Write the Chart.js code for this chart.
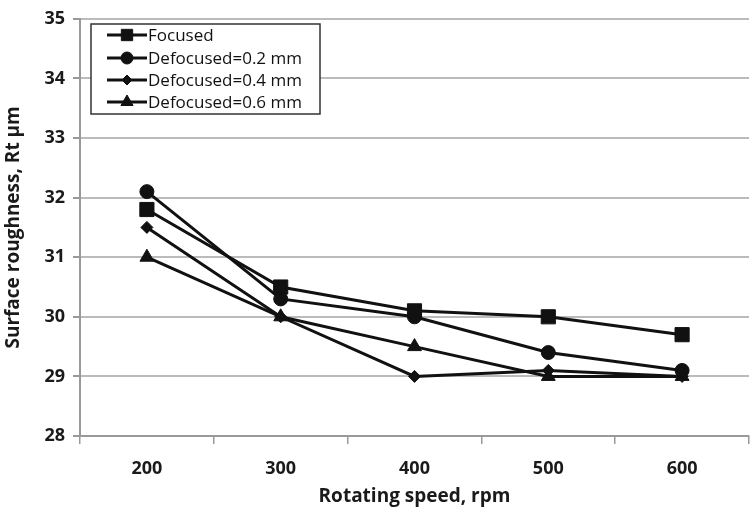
<!DOCTYPE html>
<html>
<head>
<meta charset="utf-8">
<script src="https://cdn.jsdelivr.net/npm/chart.js@4.4.1/dist/chart.umd.min.js"></script>
<style>
  html, body { margin: 0; padding: 0; background: #fff; overflow: hidden; }
  #wrap { width: 760px; height: 509px; position: relative; }
</style>
</head>
<body>
<div id="wrap"><canvas id="c"></canvas></div>
<script>
// Rotating speed categories (rpm)
const speeds = ['200', '300', '400', '500', '600'];
// Surface roughness Rt (µm) per focus condition
const focused    = [31.8, 30.5, 30.1, 30.0, 29.7];
const defocus02  = [32.1, 30.3, 30.0, 29.4, 29.1];
const defocus04  = [31.5, 30.0, 29.0, 29.1, 29.0];
const defocus06  = [31.0, 30.0, 29.5, 29.0, 29.0];
const seriesNames = ['Focused', 'Defocused=0.2 mm', 'Defocused=0.4 mm', 'Defocused=0.6 mm'];

const FONT = "'Open Sans', 'DejaVu Sans', sans-serif";
const INK = '#111';

function series(label, data, style, radius) {
  return {
    label, data,
    borderColor: INK, backgroundColor: INK,
    borderWidth: 3,
    pointStyle: style, pointRadius: radius, pointHoverRadius: radius,
    pointBorderWidth: 1, pointBorderColor: INK, pointBackgroundColor: INK,
    tension: 0, fill: false
  };
}

// Boxed legend drawn inside the plot, with line + marker samples
const boxLegend = {
  id: 'boxLegend',
  afterDatasetsDraw(chart) {
    const ctx = chart.ctx;
    const x0 = 91, y0 = 24, w = 229, h = 90;
    ctx.save();
    ctx.fillStyle = '#fff';
    ctx.fillRect(x0, y0, w, h);
    ctx.strokeStyle = '#333';
    ctx.lineWidth = 1.5;
    ctx.strokeRect(x0, y0, w, h);
    const rows = [35, 58, 80, 102];
    const sizes = [8, 6, 5, 7];
    chart.data.datasets.forEach((ds, i) => {
      const y = rows[i];
      ctx.strokeStyle = INK;
      ctx.lineWidth = 3;
      ctx.beginPath();
      ctx.moveTo(107, y);
      ctx.lineTo(147, y);
      ctx.stroke();
      ctx.fillStyle = INK;
      ctx.strokeStyle = INK;
      ctx.lineWidth = 1;
      Chart.helpers.drawPoint(ctx, { pointStyle: ds.pointStyle, radius: sizes[i], borderWidth: 1 }, 127, y);
      ctx.fillStyle = '#111';
      ctx.font = "17px " + FONT;
      ctx.textBaseline = 'middle';
      ctx.textAlign = 'left';
      ctx.fillText(ds.label, 148, y + 1);
    });
    ctx.restore();
  }
};

new Chart(document.getElementById('c'), {
  type: 'line',
  data: {
    labels: speeds,
    datasets: [
      series(seriesNames[0], focused, 'rect', 10),
      series(seriesNames[1], defocus02, 'circle', 7),
      series(seriesNames[2], defocus04, 'rectRot', 6),
      series(seriesNames[3], defocus06, 'triangle', 8)
    ]
  },
  options: {
    responsive: true,
    maintainAspectRatio: false,
    animation: false,
    layout: { padding: { top: 15, right: 0, left: 0, bottom: 0 } },
    plugins: { legend: { display: false }, tooltip: { enabled: false } },
    scales: {
      x: {
        offset: true,
        grid: { offset: true, drawOnChartArea: false, color: '#999', lineWidth: 1.5, tickLength: 8 },
        border: { color: '#999', width: 2 },
        ticks: { color: '#1a1a1a', font: { family: FONT, size: 18, weight: 'bold' }, padding: 14 },
        title: { display: true, text: 'Rotating speed, rpm', color: '#1a1a1a', font: { family: FONT, size: 19, weight: 'bold' }, padding: { top: 0, bottom: 1 } },
        afterFit(s) { s.height = 73; }
      },
      y: {
        min: 28, max: 35,
        ticks: { stepSize: 1, color: '#1a1a1a', font: { family: FONT, size: 18, weight: 'bold' }, padding: 8 },
        grid: { color: '#bbb', lineWidth: 2, tickLength: 7, tickColor: '#999' },
        border: { color: '#999', width: 2 },
        title: { display: true, text: 'Surface roughness, Rt µm', color: '#1a1a1a', font: { family: FONT, size: 19, weight: 'bold' }, padding: { top: 2, bottom: 0 } },
        afterFit(s) { s.width = 80; }
      }
    }
  },
  plugins: [boxLegend]
});
</script>
</body>
</html>
